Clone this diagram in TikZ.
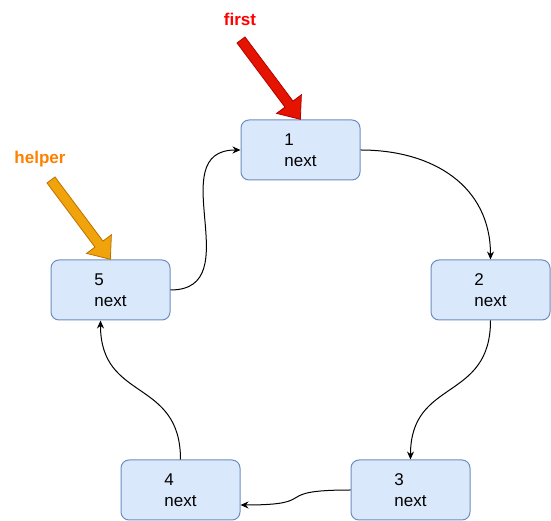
\documentclass[tikz,border=0pt]{standalone}
\usepackage{fontspec}
\setmainfont{Liberation Sans}
\usetikzlibrary{arrows.meta, calc}

\definecolor{boxfill}{HTML}{DAE8FC}
\definecolor{boxline}{HTML}{6C8EBF}
\definecolor{firstfill}{HTML}{E51400}
\definecolor{firstline}{HTML}{B20000}
\definecolor{helperfill}{HTML}{F0A30A}
\definecolor{helperline}{HTML}{BD7000}
\definecolor{helpertext}{HTML}{FF8000}

% fat pointer arrow from #2 to #3
\newcommand{\pointerarrow}[3]{%
  \path[#1] let \p1=(#2), \p2=(#3),
      \n1={atan2(\y2-\y1,\x2-\x1)}, \n2={veclen(\x2-\x1,\y2-\y1)} in
    [shift={(\p1)}, rotate=\n1]
    (0pt,5pt) -- ({\n2-19pt},5pt) -- ({\n2-19pt},15.5pt) -- (\n2,0pt)
    -- ({\n2-19pt},-15.5pt) -- ({\n2-19pt},-5pt) -- (0pt,-5pt) -- cycle;}

\begin{document}
\begin{tikzpicture}[
    x=1pt, y=1pt,
    box/.style={draw=boxline, fill=boxfill, line width=1pt, rounded corners=8pt,
      minimum width=119pt, minimum height=60pt, align=left,
      font=\fontsize{17}{21.5}\selectfont},
    link/.style={draw, line width=1pt, -{Stealth[length=8pt, width=7pt]}},
    tag/.style={font=\fontsize{17}{20}\selectfont\bfseries}
  ]
    \useasboundingbox (0,0) rectangle (551,521);

    % list nodes
    \node[box] (n1) at (300.5,371) {1\\next};
    \node[box] (n2) at (490.5,231) {2\\next};
    \node[box] (n3) at (410.5,31) {3\\next};
    \node[box] (n4) at (180.5,31) {4\\next};
    \node[box] (n5) at (110.5,231) {5\\next};

    % next links
    \draw[link] (n1.east) to[out=0, in=90, looseness=1.1] (n2.north);
    \draw[link] (n2.south) to[out=-90, in=90, looseness=1.3] (n3.north);
    \draw[link] (n3.west) to[out=180, in=0, looseness=1.9] ([yshift=-15pt]n4.east);
    \draw[link] (n4.north) to[out=90, in=-90, looseness=1.3] ([xshift=-10pt]n5.south);
    \draw[link] (n5.east) to[out=0, in=180, looseness=1.3] (n1.west);

    % pointers
    \node[tag, text=red] (first) at (240,502) {first};
    \coordinate (firsttail) at (241,481);
    \pointerarrow{fill=firstfill, draw=firstline, line width=0.8pt}{firsttail}{n1.north}

    \node[tag, text=helpertext] (helper) at (40,362) {helper};
    \coordinate (helpertail) at (51,341);
    \pointerarrow{fill=helperfill, draw=helperline, line width=0.8pt}{helpertail}{n5.north}
\end{tikzpicture}
\end{document}
